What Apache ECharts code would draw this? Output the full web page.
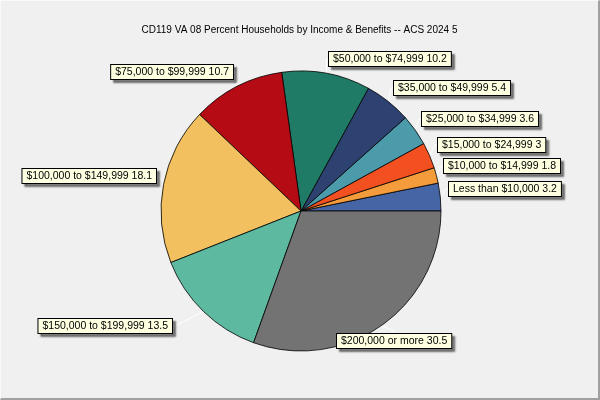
<!DOCTYPE html>
<html>
<head>
<meta charset="utf-8">
<script src="https://cdn.jsdelivr.net/npm/echarts@6/dist/echarts.min.js"></script>
<style>
  html, body { margin: 0; padding: 0; background: #f0f0f0; }
  #chart {
    width: 600px; height: 400px; box-sizing: border-box;
    border-right: 2px solid #a0a0a0; border-bottom: 2px solid #a0a0a0;
    border-top: 1px solid #fafafa; border-left: 1px solid #fafafa;
  }
</style>
</head>
<body>
<div id="chart"></div>
<script>
// income brackets, in drawing order (counter-clockwise from 3 o'clock)
const categories = [
  'Less than $10,000',
  '$10,000 to $14,999',
  '$15,000 to $24,999',
  '$25,000 to $34,999',
  '$35,000 to $49,999',
  '$50,000 to $74,999',
  '$75,000 to $99,999',
  '$100,000 to $149,999',
  '$150,000 to $199,999',
  '$200,000 or more'
];
const percents = [3.2, 1.8, 3, 3.6, 5.4, 10.2, 10.7, 18.1, 13.5, 30.5];
const colors = [
  '#4665a5', '#f49c3c', '#f25021', '#4c9bab', '#2d4270',
  '#1f7b66', '#b50b14', '#f2c05e', '#5db9a0', '#737373'
];

// where each callout box sits: [box edge x, centre y, side]
const labelPos = [
  [448, 188, 'left'], [443, 165, 'left'], [437, 144, 'left'],
  [421, 118, 'left'], [393, 87, 'left'], [328, 58, 'left'],
  [232, 71, 'right'], [155, 175, 'right'], [171, 325, 'right'],
  [336, 340, 'left']
];

const FONT = "'Liberation Sans', Arial, sans-serif";

const chart = echarts.init(document.getElementById('chart'));

const option = {
  backgroundColor: '#f0f0f0',
  animation: false,
  title: {
    text: 'CD119 VA 08 Percent Households by Income & Benefits -- ACS 2024 5',
    left: 'center',
    top: 19,
    textStyle: { fontFamily: FONT, fontSize: 10, fontWeight: 'normal', color: '#000' }
  },
  series: [{
    type: 'pie',
    center: [300, 210],
    radius: 140,
    startAngle: 0,
    clockwise: false,
    itemStyle: { borderColor: '#000', borderWidth: 0.8 },
    label: {
      show: true,
      position: 'outside',
      overflow: 'none',
      formatter: p => p.name + ' ' + p.value,
      fontFamily: FONT,
      fontSize: 10.5,
      color: '#000',
      backgroundColor: '#ffffe1',
      borderColor: '#000',
      borderWidth: 1,
      padding: [2, 4, 1, 4],
      shadowColor: 'rgba(0,0,0,0.45)',
      shadowOffsetX: 3,
      shadowOffsetY: 3,
      shadowBlur: 2
    },
    labelLine: {
      show: true,
      length: 8,
      length2: 2,
      lineStyle: { color: '#ffffff', width: 1 }
    },
    labelLayout: params => {
      const p = labelPos[params.dataIndex];
      return {
        x: p[0],
        y: p[1],
        align: p[2],
        verticalAlign: 'middle'
      };
    },
    data: categories.map((name, i) => ({
      name,
      value: percents[i],
      itemStyle: { color: colors[i] }
    }))
  }]
};

chart.setOption(option);
</script>
</body>
</html>
